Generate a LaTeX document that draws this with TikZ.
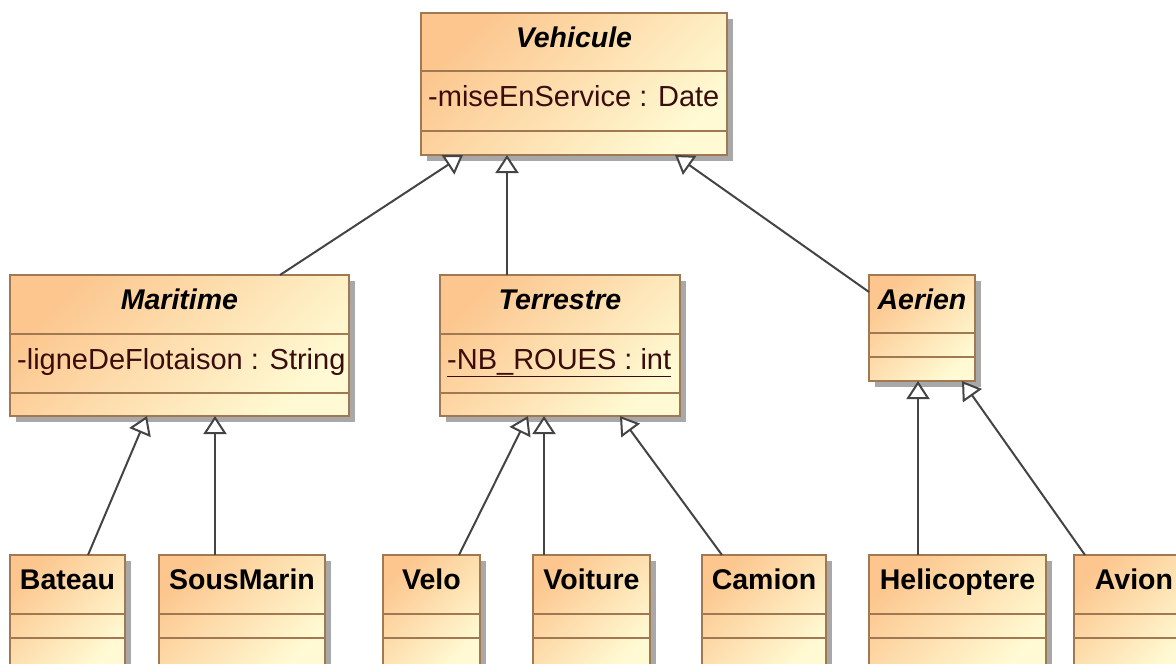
\documentclass[tikz,border=0pt]{standalone}
\usepackage{fontspec}
\setmainfont{Liberation Sans}
\usetikzlibrary{arrows.meta,calc,shadows}

\definecolor{clsorange}{HTML}{FCC68E}
\definecolor{clsyellow}{HTML}{FFFAD3}
\definecolor{clsborder}{HTML}{A07852}
\definecolor{attrtext}{HTML}{3A0C0C}
\definecolor{linegray}{HTML}{444444}

\tikzset{
  classbox/.style={draw=clsborder, line width=1.8pt, inner sep=0pt, outer sep=0pt, anchor=north west,
    top color=clsorange, bottom color=clsyellow, shading angle=45,
    drop shadow={shadow xshift=6pt, shadow yshift=-6pt, fill=black!34, opacity=1}},
  classsep/.style={draw=clsborder, line width=1.8pt},
  classname/.style={anchor=base, inner sep=0pt, font=\fontsize{28.5}{32}\selectfont\bfseries},
  classattr/.style={anchor=base west, inner sep=0pt, text=attrtext, font=\fontsize{29}{32}\selectfont},
  inherit/.style={draw=linegray, line width=2pt, -{Triangle[open, fill=white, length=18pt, width=23pt]}},
}

% name, position, width, height, first and second separator, title, attribute
\newcommand{\umlclass}[8]{
  \node[classbox, minimum width=#3pt, minimum height=#4pt] (#1) at (#2) {};
  \draw[classsep] ($(#1.north west)+(0,#5)$) -- ($(#1.north east)+(0,#5)$);
  \draw[classsep] ($(#1.north west)+(0,#6)$) -- ($(#1.north east)+(0,#6)$);
  \node[classname] (#1-name) at ($(#1.north)+(0,34)$) {#7};
  \node[classattr] (#1-attr) at ($(#1.north west)+(7,#5+35)$) {#8};
}

\begin{document}
\begin{tikzpicture}[x=1pt, y=-1pt]
  \useasboundingbox (0,0) rectangle (1176,664);
  \clip (0,0) rectangle (1176,664);

  % abstract classes
  \umlclass{vehicule}{421,13}{306}{142}{58}{118}{\itshape Vehicule}{-miseEnService : Date}
  \umlclass{maritime}{10,275}{339}{141}{59}{118}{\itshape Maritime}{-ligneDeFlotaison : String}
  \umlclass{terrestre}{440,275}{240}{141}{59}{118}{\itshape Terrestre}{\underline{-NB\_ROUES : int}}
  \umlclass{aerien}{869,275}{106}{106}{58}{82}{\itshape Aerien}{}

  % concrete classes
  \umlclass{bateau}{10,555}{115}{112}{59}{83}{Bateau}{}
  \umlclass{sousmarin}{159,555}{166}{112}{59}{83}{SousMarin}{}
  \umlclass{velo}{383,555}{97}{112}{59}{83}{Velo}{}
  \umlclass{voiture}{533,555}{117}{112}{59}{83}{Voiture}{}
  \umlclass{camion}{702,555}{124}{112}{59}{83}{Camion}{}
  \umlclass{helicoptere}{869,555}{177}{112}{59}{83}{Helicoptere}{}
  \umlclass{avion}{1074,555}{120}{112}{59}{83}{Avion}{}

  % generalisations
  \draw[inherit] ($(maritime.north west)+(270,0)$) -- ($(vehicule.south west)+(42,0)$);
  \draw[inherit] ($(terrestre.north west)+(67,0)$) -- ($(vehicule.south west)+(86,0)$);
  \draw[inherit] ($(aerien.north west)+(0,17)$) -- ($(vehicule.south west)+(254,0)$);

  \draw[inherit] ($(bateau.north west)+(78,0)$) -- ($(maritime.south west)+(137,0)$);
  \draw[inherit] ($(sousmarin.north west)+(56,0)$) -- ($(maritime.south west)+(205,0)$);

  \draw[inherit] ($(velo.north west)+(76,0)$) -- ($(terrestre.south west)+(88,0)$);
  \draw[inherit] ($(voiture.north west)+(11,0)$) -- ($(terrestre.south west)+(104,0)$);
  \draw[inherit] ($(camion.north west)+(20,0)$) -- ($(terrestre.south west)+(180,0)$);

  \draw[inherit] ($(helicoptere.north west)+(49,0)$) -- ($(aerien.south west)+(49,0)$);
  \draw[inherit] ($(avion.north west)+(11,0)$) -- ($(aerien.south west)+(93,0)$);
\end{tikzpicture}
\end{document}
